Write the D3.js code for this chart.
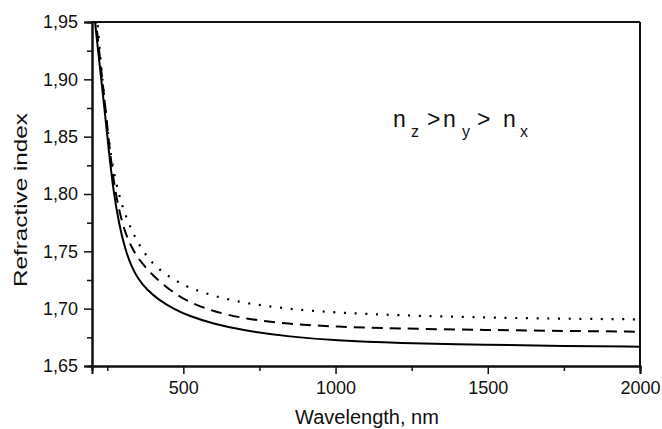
<!DOCTYPE html>
<html>
<head>
<meta charset="utf-8">
<script src="https://cdn.jsdelivr.net/npm/d3@7"></script>
<style>
  body { margin: 0; background: #fff; }
  text { font-family: "Liberation Sans", Arial, sans-serif; fill: #111; }
</style>
</head>
<body>
<div class="content"></div>
<script>
// wavelength, nm
var wavelengths = [210, 220, 230, 240, 255, 270, 290, 310, 330, 350, 380, 420, 470, 520, 600, 700, 850, 1000, 1200, 1500, 1750, 2000];
// refractive indices
var nx = [1.950, 1.925, 1.901, 1.877, 1.838, 1.803, 1.772, 1.751, 1.7365, 1.7265, 1.7165, 1.7075, 1.6995, 1.6935, 1.6866, 1.6808, 1.6755, 1.6722, 1.6700, 1.6684, 1.6675, 1.6668];
var ny = [1.958, 1.933, 1.909, 1.885, 1.847, 1.812, 1.784, 1.7655, 1.7535, 1.7445, 1.7345, 1.7240, 1.7135, 1.7055, 1.6975, 1.6912, 1.6865, 1.6843, 1.6827, 1.6814, 1.6806, 1.6799];
var nz = [1.975, 1.942, 1.912, 1.883, 1.847, 1.820, 1.7975, 1.7815, 1.7685, 1.7580, 1.7450, 1.7340, 1.7250, 1.7180, 1.7110, 1.7048, 1.6995, 1.6966, 1.6942, 1.6922, 1.6912, 1.6907];
var xMajor = [500, 1000, 1500, 2000];
var xMinor = [250, 750, 1250, 1750];
var yMajor = [1.65, 1.70, 1.75, 1.80, 1.85, 1.90, 1.95];
var yMinor = [1.675, 1.725, 1.775, 1.825, 1.875, 1.925];

var W = 662, H = 429;
var m = {left: 92, top: 22, right: 22, bottom: 63};
var pw = W - m.left - m.right, ph = H - m.top - m.bottom;

var svg = d3.select('.content').append('svg')
    .attr('width', W)
    .attr('height', H);

var x = d3.scaleLinear().domain([200, 2000]).range([0, pw]);
var y = d3.scaleLinear().domain([1.65, 1.95]).range([ph, 0]);

var g = svg.append('g').attr('transform', 'translate(' + m.left + ',' + m.top + ')');

g.append('clipPath').attr('id', 'clip')
  .append('rect').attr('width', pw).attr('height', ph);

var comma = function(d) { return d3.format('.2f')(d).replace('.', ','); };

// axes
g.append('g').attr('transform', 'translate(0,' + ph + ')')
    .call(d3.axisBottom(x).tickValues(xMajor).tickSize(8).tickPadding(7).tickFormat(d3.format('d')));
g.append('g').attr('transform', 'translate(0,' + ph + ')')
    .call(d3.axisBottom(x).tickValues(xMinor).tickSize(5).tickFormat(''));
g.append('g')
    .call(d3.axisLeft(y).tickValues(yMajor).tickSize(8).tickPadding(6).tickFormat(comma));
g.append('g')
    .call(d3.axisLeft(y).tickValues(yMinor).tickSize(5).tickFormat(''));

g.selectAll('.domain').attr('stroke', '#111').attr('stroke-width', 2);
g.selectAll('.tick line').attr('stroke', '#111').attr('stroke-width', 1.5);
g.selectAll('.tick text').style('font-size', '18px').attr('fill', '#111');

// top and right frame
g.append('line').attr('x1', 0).attr('x2', pw).attr('y1', 0).attr('y2', 0)
    .attr('stroke', '#111').attr('stroke-width', 2);
g.append('line').attr('x1', pw).attr('x2', pw).attr('y1', 0).attr('y2', ph)
    .attr('stroke', '#111').attr('stroke-width', 2);

var line = function(vals) {
    return d3.line()
        .x(function(d, i) { return x(wavelengths[i]); })
        .y(function(d) { return y(d); })
        .curve(d3.curveBasis)(vals);
};

var series = [
    {vals: nz, dash: '2,8.7', width: 2.2},
    {vals: ny, dash: '11,7', width: 2},
    {vals: nx, dash: null, width: 2}
];
series.forEach(function(s) {
    g.append('path')
        .attr('clip-path', 'url(#clip)')
        .attr('d', line(s.vals))
        .attr('fill', 'none')
        .attr('stroke', '#000')
        .attr('stroke-width', s.width)
        .attr('stroke-dasharray', s.dash);
});

// axis titles
svg.append('text')
    .attr('x', m.left + pw / 2 + 1)
    .attr('y', 424)
    .attr('text-anchor', 'middle')
    .style('font-size', '20px')
    .text('Wavelength, nm');
svg.append('text')
    .attr('transform', 'translate(27,' + 200 + ') rotate(-90)')
    .attr('text-anchor', 'middle')
    .attr('textLength', 174)
    .attr('lengthAdjust', 'spacingAndGlyphs')
    .style('font-size', '18px')
    .text('Refractive index');

// annotation n_z > n_y > n_x
var ann = svg.append('text').attr('y', 127).style('font-size', '23px');
var parts = [
    {t: 'n', x: 393, sub: false}, {t: 'z', x: 411, sub: true}, {t: '>', x: 427, sub: false},
    {t: 'n', x: 443, sub: false}, {t: 'y', x: 462, sub: true}, {t: '>', x: 477, sub: false},
    {t: 'n', x: 503, sub: false}, {t: 'x', x: 520, sub: true}
];
parts.forEach(function(p) {
    ann.append('tspan')
        .attr('x', p.x)
        .attr('y', p.sub ? 137 : 127)
        .style('font-size', p.sub ? '16px' : '23px')
        .text(p.t);
});
</script>
</body>
</html>
